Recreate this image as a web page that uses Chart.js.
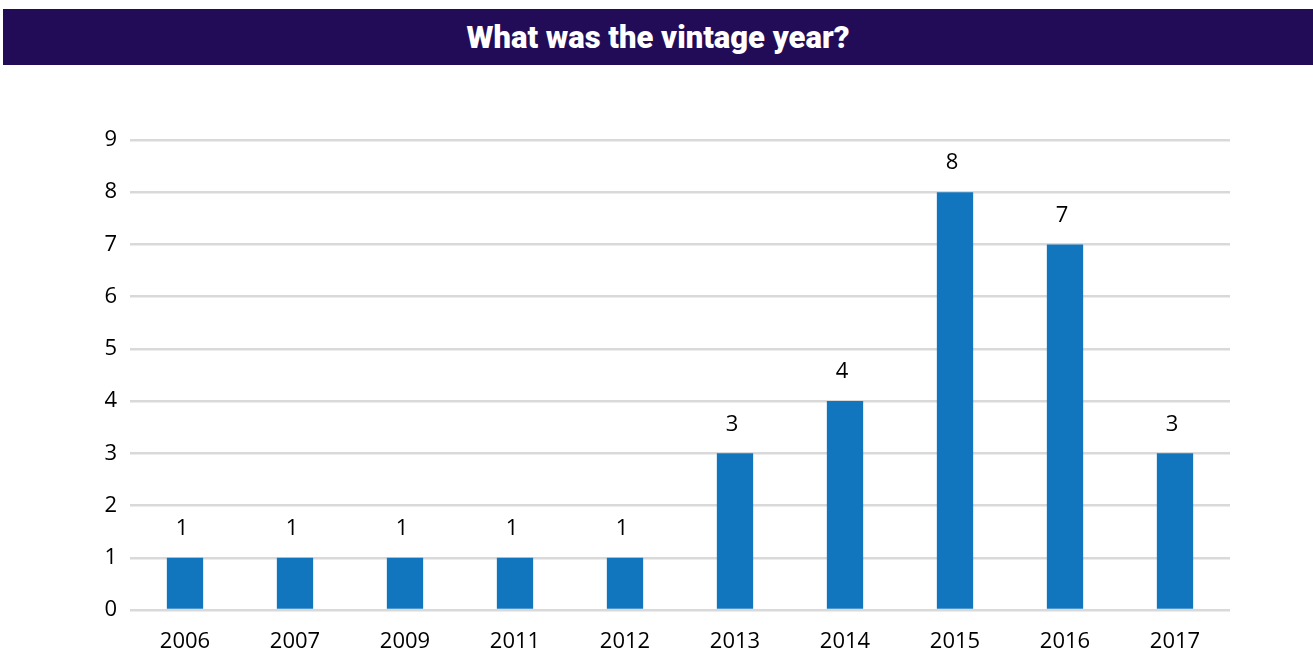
<!DOCTYPE html>
<html>
<head>
<meta charset="utf-8">
<script src="https://cdn.jsdelivr.net/npm/chart.js@4"></script>
<style>
  html, body { margin: 0; padding: 0; background: #fff; }
  #wrap { position: relative; width: 1313px; height: 651px; overflow: hidden; }
  #banner {
    position: absolute; left: 3px; top: 9px; width: 1310px; height: 56px;
    background: #220c57; color: #fff;
    font-family: Roboto, sans-serif; font-weight: 900; font-size: 31px;
    display: flex; align-items: center; justify-content: center;
  }
  canvas { position: absolute; left: 0; top: 0; }
</style>
</head>
<body>
<div id="wrap">
  <div id="banner">What was the vintage year?</div>
  <canvas id="chart" width="1313" height="651"></canvas>
</div>
<script>
const years = ["2006", "2007", "2009", "2011", "2012", "2013", "2014", "2015", "2016", "2017"];
const counts = [1, 1, 1, 1, 1, 3, 4, 8, 7, 3];
const yTicks = [0, 1, 2, 3, 4, 5, 6, 7, 8, 9];

const fontFamily = "'Open Sans', 'Noto Sans', sans-serif";

// value labels above each bar
const valueLabels = {
  id: "valueLabels",
  afterDatasetsDraw(chart) {
    const ctx = chart.ctx;
    const meta = chart.getDatasetMeta(0);
    ctx.save();
    ctx.font = "22px " + fontFamily;
    ctx.fillStyle = "#000";
    ctx.textAlign = "center";
    ctx.textBaseline = "middle";
    meta.data.forEach((bar, i) => {
      ctx.fillText(String(counts[i]), bar.x - 3, bar.y - 29);
    });
    ctx.restore();
  },
};

new Chart(document.getElementById("chart"), {
  type: "bar",
  data: {
    labels: years,
    datasets: [
      {
        data: counts,
        backgroundColor: "#1276be",
        categoryPercentage: 1,
        barPercentage: 0.33,
      },
    ],
  },
  options: {
    responsive: false,
    animation: false,
    layout: { padding: { top: 140, right: 83, bottom: 0, left: 0 } },
    plugins: {
      legend: { display: false },
      tooltip: { enabled: false },
    },
    scales: {
      x: {
        grid: { display: false, drawTicks: false },
        border: { display: false },
        ticks: {
          color: "#000",
          font: { family: fontFamily, size: 22 },
          padding: 19,
        },
        afterFit: (scale) => { scale.height = 41; },
      },
      y: {
        min: 0,
        max: 9,
        afterBuildTicks: (scale) => { scale.ticks = yTicks.map((v) => ({ value: v })); },
        grid: { color: "#d9d9d9", lineWidth: 2.5, drawTicks: false },
        border: { display: false },
        ticks: {
          color: "#000",
          font: { family: fontFamily, size: 22 },
          padding: 13,
        },
        afterFit: (scale) => { scale.width = 130; },
      },
    },
  },
  plugins: [valueLabels],
});
</script>
</body>
</html>
